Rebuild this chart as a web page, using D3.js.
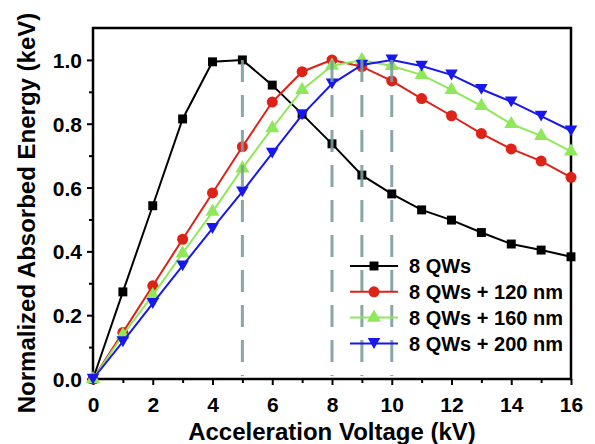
<!DOCTYPE html>
<html>
<head>
<meta charset="utf-8">
<script src="https://cdn.jsdelivr.net/npm/d3@7"></script>
<style>
	body { margin: 0; background: #fff; }
	text { font-family: "Liberation Sans", Arial, sans-serif; }
</style>
</head>
<body>
<svg width="595" height="444"></svg>
<script>
// Normalized absorbed energy vs acceleration voltage

var voltages = [0, 1, 2, 3, 4, 5, 6, 7, 8, 9, 10, 11, 12, 13, 14, 15, 16];
var qw8 = [0, 0.273, 0.543, 0.815, 0.994, 1.0, 0.921, 0.83, 0.737, 0.639, 0.58, 0.53, 0.498, 0.459, 0.423, 0.404, 0.383];
var qw8_120 = [0, 0.146, 0.292, 0.438, 0.583, 0.728, 0.868, 0.963, 1.0, 0.979, 0.934, 0.879, 0.825, 0.769, 0.721, 0.683, 0.632];
var qw8_160 = [0, 0.138, 0.263, 0.394, 0.524, 0.66, 0.786, 0.906, 0.982, 1.0, 0.981, 0.953, 0.906, 0.856, 0.799, 0.762, 0.713];
var qw8_200 = [0, 0.117, 0.237, 0.355, 0.472, 0.587, 0.708, 0.828, 0.925, 0.984, 1.0, 0.981, 0.953, 0.908, 0.869, 0.824, 0.778];
var series_names = ["8 QWs", "8 QWs + 120 nm", "8 QWs + 160 nm", "8 QWs + 200 nm"];
var peak_voltages = [5, 8, 9, 10];
var x_ticks = [0, 2, 4, 6, 8, 10, 12, 14, 16];
var y_ticks = [0, 0.2, 0.4, 0.6, 0.8, 1.0];

var series = [
	{name: series_names[0], values: qw8, color: "#000000", symbol: "square"},
	{name: series_names[1], values: qw8_120, color: "#dd2218", symbol: "circle"},
	{name: series_names[2], values: qw8_160, color: "#8fe85a", symbol: "up"},
	{name: series_names[3], values: qw8_200, color: "#1818ee", symbol: "down"}
];

var svg = d3.select("svg");
var plot_left = 93, plot_right = 571, plot_top = 28, plot_bottom = 379;

var x = d3.scaleLinear().domain([0, 16]).range([plot_left, plot_right]);
var y = d3.scaleLinear().domain([0, 1.1]).range([plot_bottom, plot_top]);

function symbolPath(type){
	if (type == "square") return d3.symbol(d3.symbolSquare, 80)();
	if (type == "circle") return d3.symbol(d3.symbolCircle, 95)();
	if (type == "up") return d3.symbol(d3.symbolTriangle, 85)();
	// downward triangle
	return "M0,5.5L-6.3,-5.3L6.3,-5.3Z";
}

// axes
var xAxis = svg.append("g")
	.attr("transform", "translate(0," + plot_bottom + ")")
	.call(d3.axisBottom(x).tickValues(x_ticks).tickSize(6).tickSizeOuter(0).tickFormat(d3.format("d")));
var xMinor = svg.append("g")
	.attr("transform", "translate(0," + plot_bottom + ")")
	.call(d3.axisBottom(x).tickValues(d3.range(1, 16, 2)).tickSize(4).tickSizeOuter(0).tickFormat(""));

var yAxis = svg.append("g")
	.attr("transform", "translate(" + plot_left + ",0)")
	.call(d3.axisLeft(y).tickValues(y_ticks).tickSize(6).tickSizeOuter(0).tickFormat(d3.format(".1f")));
var yMinor = svg.append("g")
	.attr("transform", "translate(" + plot_left + ",0)")
	.call(d3.axisLeft(y).tickValues([0.1, 0.3, 0.5, 0.7, 0.9]).tickSize(4).tickSizeOuter(0).tickFormat(""));

svg.selectAll(".domain").remove();
svg.selectAll(".tick line").attr("stroke", "#000").attr("stroke-width", 2);
xAxis.selectAll("text")
	.attr("font-size", 21).attr("font-weight", "bold").attr("fill", "#000")
	.attr("dy", null).attr("y", 33);
yAxis.selectAll("text")
	.attr("font-size", 21).attr("font-weight", "bold").attr("fill", "#000")
	.attr("x", -11).attr("dy", "0.36em");

// frame
svg.append("rect")
	.attr("x", plot_left).attr("y", plot_top)
	.attr("width", plot_right - plot_left).attr("height", plot_bottom - plot_top)
	.attr("fill", "none").attr("stroke", "#000").attr("stroke-width", 2.5);

// data lines and markers
var line = d3.line()
	.x((d, i) => x(voltages[i]))
	.y(d => y(d));

series.forEach(s => {
	svg.append("path")
		.datum(s.values)
		.attr("d", line)
		.attr("fill", "none")
		.attr("stroke", s.color)
		.attr("stroke-width", 2);
	svg.append("g").selectAll("path")
		.data(s.values)
		.enter().append("path")
		.attr("d", symbolPath(s.symbol))
		.attr("transform", (d, i) => "translate(" + x(voltages[i]) + "," + y(d) + ")")
		.attr("fill", s.color);
});

// dashed guides at the peaks
svg.append("g").selectAll("line")
	.data(peak_voltages)
	.enter().append("line")
	.attr("x1", d => x(d)).attr("x2", d => x(d))
	.attr("y1", y(1.0)).attr("y2", plot_bottom - 3)
	.attr("stroke", "#7c9e9c")
	.attr("stroke-width", 3)
	.attr("stroke-dasharray", "22,13")
	.attr("opacity", 0.9);

// legend
var legend = svg.append("g").selectAll("g")
	.data(series)
	.enter().append("g")
	.attr("transform", (d, i) => "translate(350," + (266 + i * 25.8) + ")");
legend.append("line")
	.attr("x1", 0).attr("x2", 48)
	.attr("stroke", d => d.color).attr("stroke-width", 2);
legend.append("path")
	.attr("d", d => symbolPath(d.symbol))
	.attr("transform", "translate(24,0)")
	.attr("fill", d => d.color);
legend.append("text")
	.attr("x", 59).attr("dy", "0.36em")
	.attr("font-size", 20).attr("font-weight", "bold")
	.text(d => d.name);

// axis titles
svg.append("text")
	.attr("x", (plot_left + plot_right) / 2).attr("y", 440)
	.attr("text-anchor", "middle")
	.attr("font-size", 24).attr("font-weight", "bold")
	.text("Acceleration Voltage (kV)");
svg.append("text")
	.attr("transform", "translate(35,213) rotate(-90)")
	.attr("text-anchor", "middle")
	.attr("font-size", 24).attr("font-weight", "bold")
	.text("Normalized Absorbed Energy (keV)");
</script>
</body>
</html>
